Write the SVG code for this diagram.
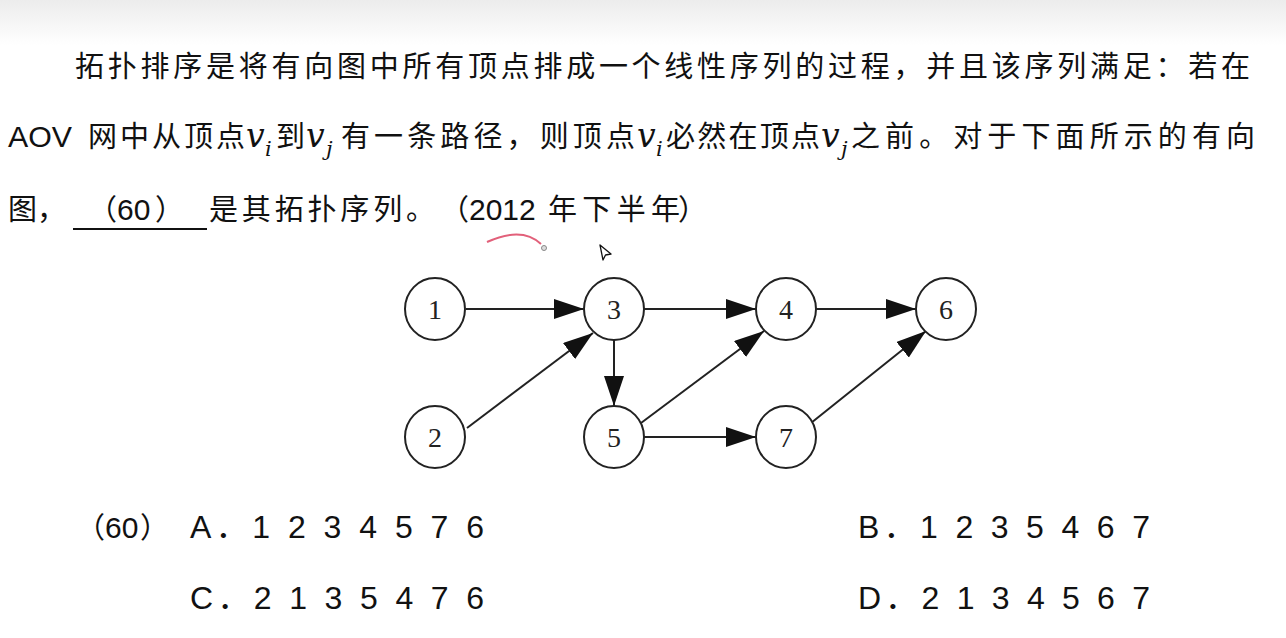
<svg xmlns="http://www.w3.org/2000/svg" width="1286" height="638" viewBox="0 0 1286 638">
<style>
.cjk{font-family:"Noto Sans CJK SC","Liberation Sans",sans-serif;font-size:29px;fill:#111}
.lat{font-family:"Liberation Sans","Noto Sans CJK SC",sans-serif;font-size:30px;fill:#111}
.mv{font-family:"DejaVu Serif","Liberation Serif",serif;font-style:italic;font-size:33px;fill:#111}
.sub{font-family:"DejaVu Serif","Liberation Serif",serif;font-style:italic;font-size:21px;fill:#111}
.node ellipse{fill:#fff;stroke:#222;stroke-width:2}
.node text{font-family:"Liberation Serif","DejaVu Serif",serif;font-size:28px;fill:#222;text-anchor:middle}
.edge{stroke:#222;stroke-width:2;fill:none;marker-end:url(#ah)}
.opt{font-family:"Liberation Sans","Noto Sans CJK SC",sans-serif;font-size:32px;fill:#111}
</style>
<defs>
<linearGradient id="topg" x1="0" y1="0" x2="0" y2="1">
<stop offset="0" stop-color="#ececec"/>
<stop offset="1" stop-color="#ffffff"/>
</linearGradient>
<marker id="ah" markerUnits="userSpaceOnUse" markerWidth="30" markerHeight="20" refX="30" refY="10" orient="auto">
<path d="M0,0 L30,10 L0,20 Z" fill="#111"/>
</marker>
</defs>
<rect width="1286" height="638" fill="#fff"/>
<rect width="1286" height="45" fill="url(#topg)"/>

<g id="text-question">
<text class="cjk" x="75" y="77" textLength="1175" lengthAdjust="spacing">拓扑排序是将有向图中所有顶点排成一个线性序列的过程，并且该序列满足：若在</text>
<text class="lat" x="8" y="147" textLength="64" lengthAdjust="spacingAndGlyphs">AOV</text>
<text class="cjk" x="88" y="147" textLength="157" lengthAdjust="spacing">网中从顶点</text>
<text class="mv" x="246" y="147">v</text><text class="sub" x="265" y="156">i</text>
<text class="cjk" x="276" y="147">到</text>
<text class="mv" x="306" y="147">v</text><text class="sub" x="326" y="156">j</text>
<text class="cjk" x="341" y="147" textLength="294" lengthAdjust="spacing">有一条路径，则顶点</text>
<text class="mv" x="637" y="147">v</text><text class="sub" x="656" y="156">i</text>
<text class="cjk" x="666" y="147" textLength="154" lengthAdjust="spacing">必然在顶点</text>
<text class="mv" x="821" y="147">v</text><text class="sub" x="841" y="156">j</text>
<text class="cjk" x="851" y="147" textLength="404" lengthAdjust="spacing">之前。对于下面所示的有向</text>
<text class="cjk" x="8" y="220">图，</text>
<text class="cjk" x="88" y="220">（</text>
<text class="lat" x="117" y="220">60</text>
<text class="cjk" x="155" y="220">）</text>
<line x1="73" y1="229" x2="207" y2="229" stroke="#111" stroke-width="2"/>
<text class="cjk" x="209" y="220" textLength="226" lengthAdjust="spacing">是其拓扑序列。</text>
<text class="cjk" x="440" y="220">（</text>
<text class="lat" x="469" y="220">2012</text>
<text class="cjk" x="548" y="220" textLength="132" lengthAdjust="spacing">年下半年</text>
<text class="cjk" x="678" y="220">）</text>
</g>

<g id="annotation">
<path d="M487,242 Q522,226 541,244" fill="none" stroke="#e2607a" stroke-width="2"/>
<circle cx="544" cy="248" r="2.5" fill="#ddd" stroke="#888" stroke-width="1"/>
<path d="M600,245 L611,254 L605.5,255 L603,260 Z" fill="#fff" stroke="#111" stroke-width="1.3" stroke-linejoin="round"/>
</g>

<g id="connectors">
<line class="edge" x1="466" y1="309" x2="584" y2="309"/>
<line class="edge" x1="644" y1="309" x2="756" y2="309"/>
<line class="edge" x1="816" y1="309" x2="916" y2="309"/>
<line class="edge" x1="614" y1="340" x2="614" y2="406"/>
<line class="edge" x1="644" y1="437" x2="756" y2="437"/>
<line class="edge" x1="467" y1="428" x2="593" y2="333"/>
<line class="edge" x1="641" y1="423" x2="764" y2="331"/>
<line class="edge" x1="811" y1="423" x2="926" y2="331"/>
</g>

<g id="n1" class="node"><ellipse cx="435" cy="309" rx="30" ry="31"/><text x="435" y="319">1</text></g>
<g id="n2" class="node"><ellipse cx="435" cy="437" rx="30" ry="31"/><text x="435" y="447">2</text></g>
<g id="n3" class="node"><ellipse cx="614" cy="309" rx="30" ry="31"/><text x="614" y="319">3</text></g>
<g id="n4" class="node"><ellipse cx="786" cy="309" rx="30" ry="31"/><text x="786" y="319">4</text></g>
<g id="n5" class="node"><ellipse cx="614" cy="437" rx="30" ry="31"/><text x="614" y="447">5</text></g>
<g id="n6" class="node"><ellipse cx="946" cy="309" rx="30" ry="31"/><text x="946" y="319">6</text></g>
<g id="n7" class="node"><ellipse cx="786" cy="437" rx="30" ry="31"/><text x="786" y="447">7</text></g>

<g id="options">
<text class="cjk" x="76" y="538" font-size="29">（</text>
<text class="lat" x="105" y="538">60</text>
<text class="cjk" x="140" y="538" font-size="29">）</text>
<text class="opt" x="190" y="538" textLength="294" lengthAdjust="spacing">A．1 2 3 4 5 7 6</text>
<text class="opt" x="858" y="538" textLength="292" lengthAdjust="spacing">B．1 2 3 5 4 6 7</text>
<text class="opt" x="190" y="609" textLength="294" lengthAdjust="spacing">C．2 1 3 5 4 7 6</text>
<text class="opt" x="858" y="609" textLength="292" lengthAdjust="spacing">D．2 1 3 4 5 6 7</text>
</g>
</svg>
